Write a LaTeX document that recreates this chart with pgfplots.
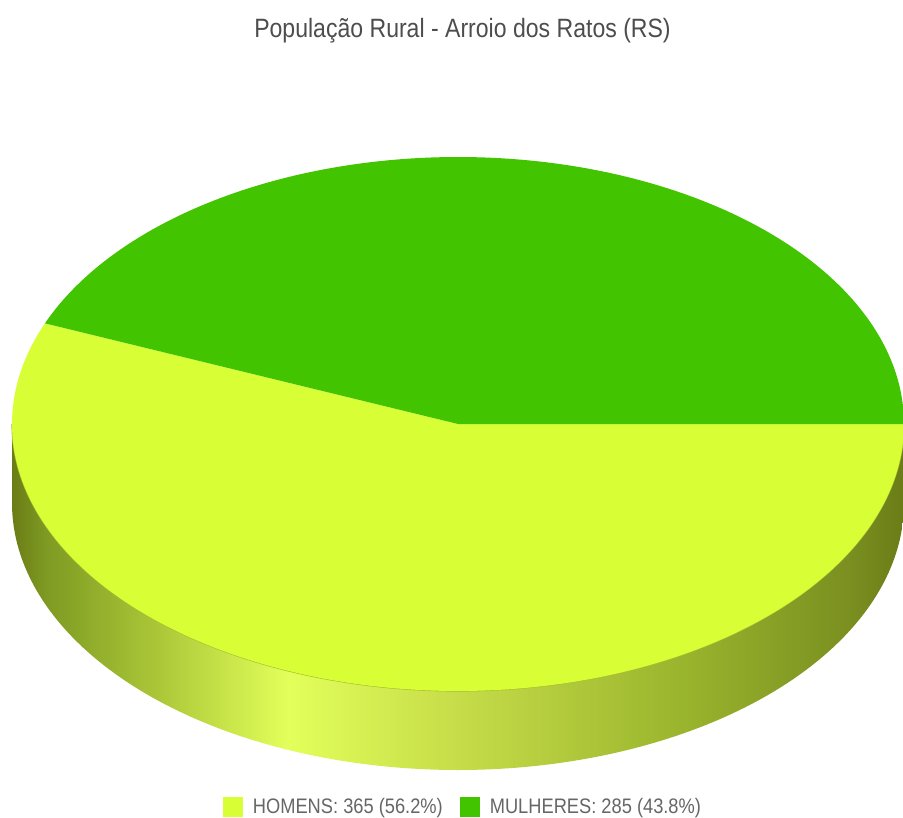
\documentclass[border=0pt]{standalone}
\usepackage{pgfplots}
\pgfplotsset{compat=1.18}
\usepackage{fontspec}
\setmainfont{Liberation Sans}
\newfontfamily\narrow{Liberation Sans}[FakeStretch=0.87]
\definecolor{homens}{HTML}{D8FF36}
\definecolor{mulheres}{HTML}{43C401}
\definecolor{sideA}{HTML}{6A7C16}
\definecolor{sideB}{HTML}{7E9A22}
\definecolor{sideC}{HTML}{A8C436}
\definecolor{sideD}{HTML}{E2FF5A}
\definecolor{sideE}{HTML}{C8DE4A}
\definecolor{sideF}{HTML}{9AB52D}
\definecolor{sideG}{HTML}{7A8F20}
\definecolor{sideline}{HTML}{A9BF2E}
\definecolor{titlegray}{HTML}{4D4D4D}
\definecolor{legtext}{HTML}{666666}
\pgfdeclarehorizontalshading{pieside}{100bp}{color(0bp)=(sideA); color(25bp)=(sideA); color(26.85bp)=(sideB); color(32.75bp)=(sideC); color(40.5bp)=(sideD); color(49.5bp)=(sideE); color(62.5bp)=(sideF); color(72bp)=(sideG); color(75bp)=(sideA); color(100bp)=(sideA)}
% data
\def\vH{365}
\def\vM{285}
\pgfmathsetmacro\angH{360*(\vH/(\vH+\vM))}
\pgfmathsetmacro\startH{360-\angH}
\begin{document}
\begin{tikzpicture}
\begin{axis}[
  scale only axis, width=903bp, height=818bp,
  xmin=0, xmax=903, ymin=0, ymax=818, y dir=reverse,
  hide axis,
  legend image code/.code={\fill[#1] (0bp,-10bp) rectangle (20bp,10bp);},
  legend style={at={(0.5116,0.0135)}, anchor=center, draw=none, fill=none,
    legend columns=2, inner sep=0pt,
    font=\narrow\fontsize{21bp}{24bp}\selectfont, text=legtext,
    nodes={inner sep=0pt},
    /tikz/every odd column/.append style={column sep=10bp},
    /tikz/every even column/.append style={column sep=17bp}},
]
% side wall
\addplot[forget plot, draw=none, shade, shading=pieside,
  domain=180:540, samples=721]
  ({458+446*cos(x)}, {x<360.25 ? 424-267*sin(x) : 503+267*sin(x)}) -- cycle;
\addplot[forget plot, draw=sideline, line width=1.2bp, domain=180:360, samples=240]
  ({458+446*cos(x)}, {424-267*sin(x)});
% top slices
\addplot[fill=homens, draw=none, domain=\startH:360, samples=240]
  ({458+446*cos(x)}, {424-267*sin(x)}) -- (axis cs:458,424) -- cycle;
\addlegendentry{HOMENS: 365 (56.2\%)}
\addplot[fill=mulheres, draw=none, domain=0:\startH, samples=200]
  ({458+446*cos(x)}, {424-267*sin(x)}) -- (axis cs:458,424) -- cycle;
\addlegendentry{MULHERES: 285 (43.8\%)}
\node[anchor=base, text=titlegray, font=\narrow\fontsize{26.5bp}{30bp}\selectfont, inner sep=0pt]
  at (axis cs:462.5,38) {População Rural - Arroio dos Ratos (RS)};
\coordinate (BL) at (rel axis cs:0,0);
\coordinate (TR) at (rel axis cs:1,1);
\end{axis}
\pgfresetboundingbox
\useasboundingbox (BL) rectangle (TR);
\end{tikzpicture}
\end{document}
